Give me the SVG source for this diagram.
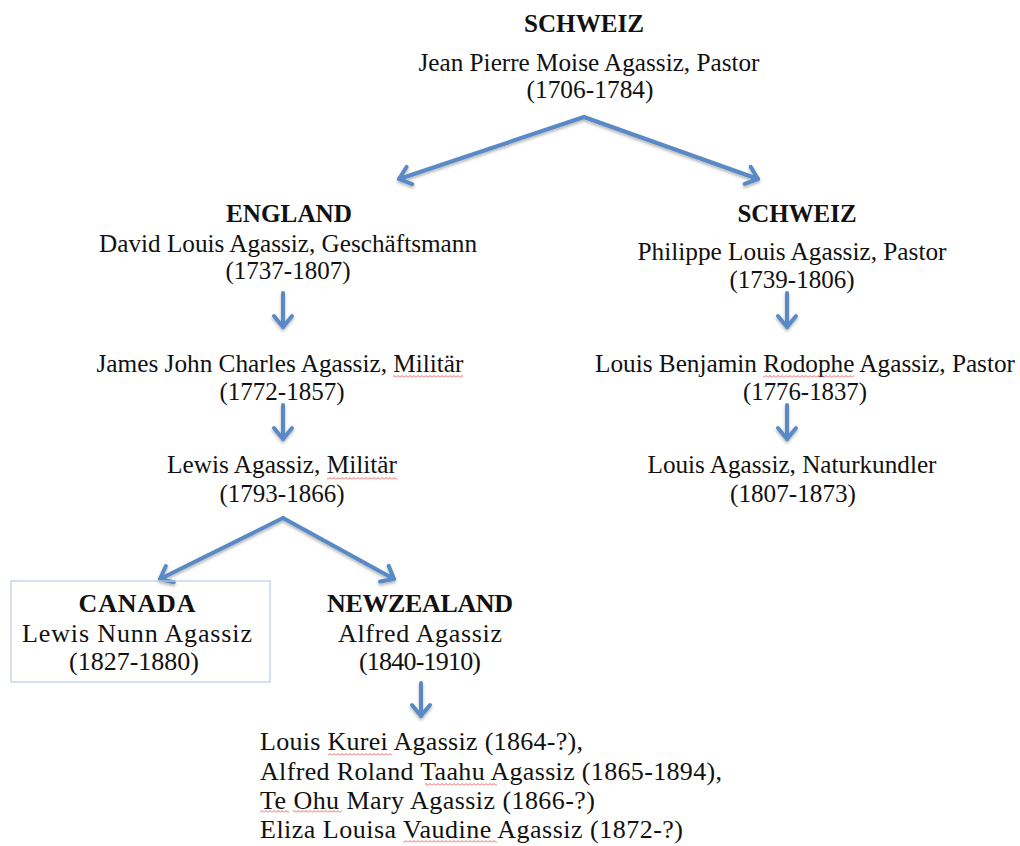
<svg xmlns="http://www.w3.org/2000/svg" width="1020" height="846" viewBox="0 0 1020 846">
<style>
text{font-family:"Liberation Serif","Times New Roman",serif;fill:#111;}
.t{font-size:25px;text-anchor:middle;}
.b{font-size:25px;font-weight:bold;text-anchor:middle;}
.p{font-size:26px;}
.pc{font-size:26px;text-anchor:middle;}
.pb{font-size:26px;font-weight:bold;text-anchor:middle;}
.arr{stroke:#5A8AC6;stroke-width:4;fill:none;stroke-linecap:round;stroke-linejoin:round;marker-end:url(#ah);}
.sq{fill:url(#sqp);}
</style>
<defs>
<marker id="ah" markerUnits="userSpaceOnUse" markerWidth="30" markerHeight="30" refX="0" refY="0" viewBox="-15 -15 30 30" orient="auto" overflow="visible">
<path d="M-11,-9 L0,0 L-11,9" stroke="#5A8AC6" stroke-width="4" fill="none" stroke-linecap="round" stroke-linejoin="round"/>
</marker>
<filter id="sh" filterUnits="userSpaceOnUse" x="0" y="0" width="1020" height="846">
<feDropShadow dx="0" dy="2" stdDeviation="1.5" flood-color="#000" flood-opacity="0.3"/>
</filter>
<pattern id="sqp" width="4" height="3" patternUnits="userSpaceOnUse">
<path d="M0,2.5 L2,0.5 L4,2.5" stroke="#e33" stroke-width="0.8" fill="none"/>
</pattern>
</defs>
<rect width="1020" height="846" fill="#fff"/>

<g id="connectors" filter="url(#sh)">
<polyline class="arr" points="584,117 399,179"/>
<polyline class="arr" points="584,117 758,179"/>
<line class="arr" x1="283" y1="293" x2="283" y2="327"/>
<line class="arr" x1="283" y1="405" x2="283" y2="439"/>
<line class="arr" x1="787" y1="293" x2="787" y2="327"/>
<line class="arr" x1="787" y1="405" x2="787" y2="439"/>
<polyline class="arr" points="283,518 160,579"/>
<polyline class="arr" points="283,518 394,579"/>
<line class="arr" x1="421" y1="683" x2="421" y2="716"/>
</g>

<g id="root">
<text class="b" x="584" y="32" textLength="120" lengthAdjust="spacingAndGlyphs">SCHWEIZ</text>
<text class="t" x="589" y="71" textLength="341" lengthAdjust="spacingAndGlyphs">Jean Pierre Moise Agassiz, Pastor</text>
<text class="t" x="590" y="98" textLength="127" lengthAdjust="spacingAndGlyphs">(1706-1784)</text>
</g>

<g id="england">
<text class="b" x="289" y="222" textLength="126" lengthAdjust="spacingAndGlyphs">ENGLAND</text>
<text class="t" x="288" y="252" textLength="378" lengthAdjust="spacingAndGlyphs">David Louis Agassiz, Geschäftsmann</text>
<text class="t" x="288" y="279" textLength="125" lengthAdjust="spacingAndGlyphs">(1737-1807)</text>
</g>

<g id="james">
<text class="t" x="280" y="372" textLength="367" lengthAdjust="spacingAndGlyphs">James John Charles Agassiz, Militär</text>
<text class="t" x="282" y="400" textLength="125" lengthAdjust="spacingAndGlyphs">(1772-1857)</text>
<rect class="sq" x="393" y="375" width="70" height="3"/>
</g>

<g id="lewis">
<text class="t" x="282" y="473" textLength="230" lengthAdjust="spacingAndGlyphs">Lewis Agassiz, Militär</text>
<text class="t" x="282" y="502" textLength="125" lengthAdjust="spacingAndGlyphs">(1793-1866)</text>
<rect class="sq" x="327" y="477" width="70" height="3"/>
</g>

<g id="schweiz2">
<text class="b" x="797" y="222" textLength="119" lengthAdjust="spacingAndGlyphs">SCHWEIZ</text>
<text class="t" x="792" y="260" textLength="309" lengthAdjust="spacingAndGlyphs">Philippe Louis Agassiz, Pastor</text>
<text class="t" x="792" y="288" textLength="125" lengthAdjust="spacingAndGlyphs">(1739-1806)</text>
</g>

<g id="benjamin">
<text class="t" x="805" y="372" textLength="420" lengthAdjust="spacingAndGlyphs">Louis Benjamin Rodophe Agassiz, Pastor</text>
<text class="t" x="805" y="400" textLength="124" lengthAdjust="spacingAndGlyphs">(1776-1837)</text>
<rect class="sq" x="763" y="375" width="91" height="3"/>
</g>

<g id="naturkundler">
<text class="t" x="792" y="473" textLength="289" lengthAdjust="spacingAndGlyphs">Louis Agassiz, Naturkundler</text>
<text class="t" x="793" y="502" textLength="126" lengthAdjust="spacingAndGlyphs">(1807-1873)</text>
</g>

<g id="canada">
<rect x="11" y="581" width="259" height="101" fill="none" stroke="#b9cde6" stroke-width="1.2"/>
<text class="pb" x="137" y="612" textLength="117" lengthAdjust="spacing">CANADA</text>
<text class="pc" x="137" y="642" textLength="230" lengthAdjust="spacing">Lewis Nunn Agassiz</text>
<text class="pc" x="134" y="670" textLength="130" lengthAdjust="spacing">(1827-1880)</text>
</g>

<g id="newzealand">
<text class="pb" x="420" y="612" textLength="186" lengthAdjust="spacing">NEWZEALAND</text>
<text class="pc" x="420" y="642" textLength="164" lengthAdjust="spacing">Alfred Agassiz</text>
<text class="pc" x="420" y="670" textLength="122" lengthAdjust="spacing">(1840-1910)</text>
</g>

<g id="children">
<text class="p" x="260" y="750" textLength="323" lengthAdjust="spacing">Louis Kurei Agassiz (1864-?),</text>
<text class="p" x="260" y="780" textLength="462" lengthAdjust="spacing">Alfred Roland Taahu Agassiz (1865-1894),</text>
<text class="p" x="260" y="809" textLength="335" lengthAdjust="spacing">Te Ohu Mary Agassiz (1866-?)</text>
<text class="p" x="260" y="838" textLength="423" lengthAdjust="spacing">Eliza Louisa Vaudine Agassiz (1872-?)</text>
<rect class="sq" x="328" y="753" width="64" height="3"/>
<rect class="sq" x="425" y="783" width="72" height="3"/>
<rect class="sq" x="260" y="810" width="29" height="3"/>
<rect class="sq" x="293" y="810" width="49" height="3"/>
<rect class="sq" x="403" y="840" width="94" height="3"/>
</g>
</svg>
